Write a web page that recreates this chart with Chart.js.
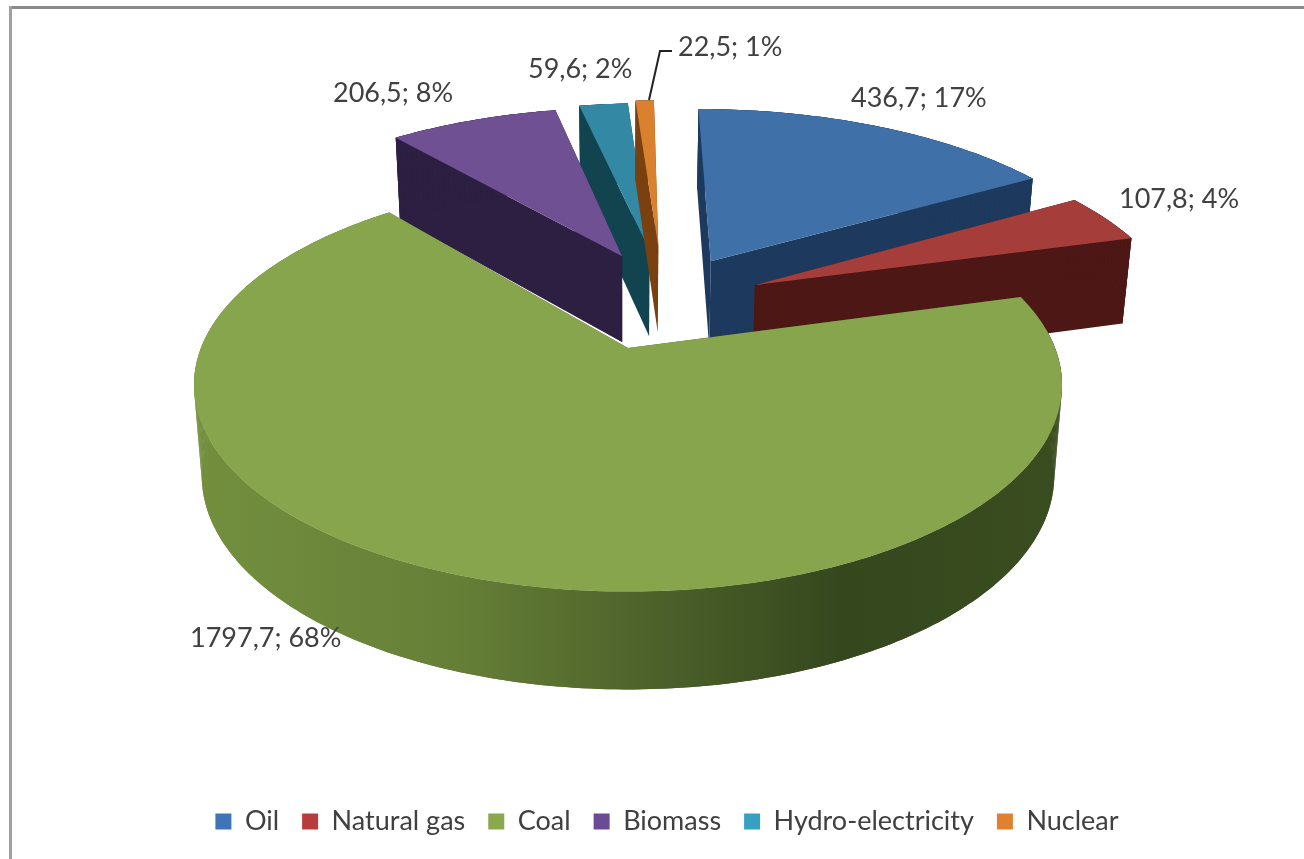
<!DOCTYPE html>
<html>
<head>
<meta charset="utf-8">
<title>Energy sources</title>
<style>
  html, body { margin: 0; padding: 0; background: #fff; overflow: hidden; }
  #chart { display: block; }
</style>
<script src="https://cdn.jsdelivr.net/npm/chart.js@4"></script>
</head>
<body>
<canvas id="chart" width="1304" height="859"></canvas>
<script>
const categories = ['Oil', 'Natural gas', 'Coal', 'Biomass', 'Hydro-electricity', 'Nuclear'];
const values = [436.7, 107.8, 1797.7, 206.5, 59.6, 22.5];
const percents = [17, 4, 68, 8, 2, 1];

// slice colours
const topColors = ['#3f70a8', '#a53d3b', '#87a54c', '#6f5092', '#3388a3', '#d9812f'];
const wallColors = ['#1d3a5e', '#4c1714', '#5f7a35', '#2c1f42', '#124450', '#7a4010'];
const legendColors = ['#3f74b5', '#b83c3c', '#8aa84e', '#6a4c96', '#35a0c0', '#e08030'];
// how far each slice is pulled out of the pie, in pie radii (right, back), and its size
const explodeU = [0.21, 0.315, 0, -0.015, 0.055, 0.078];
const explodeV = [0.47, 0.334, 0, 0.5, 0.537, 0.56];
const radius = [1.05, 1.03, 1, 1.03, 1.03, 1.03];
// label anchors
const labelX = [851, 1119, 190, 333, 528, 678];
const labelY = [98, 199, 638, 93, 69, 47];

// perspective view of the pie plane
const view = { cx: 628, cy: 348, a: 427, b: 200, k: 0.179, depth: 89.5, shrink: 0.018 };

function project(p, z) {
  const w = 1 + view.k * p[1];
  const s = 1 - view.shrink * z;
  return {
    x: view.cx + s * view.a * p[0] / w,
    y: view.cy - view.b * p[1] / w + z * view.depth / Math.pow(w, 0.45)
  };
}

function outline(start, end, r, u0, v0) {
  // chart.js angles run clockwise from the x axis, so cos is right and -sin is back
  const pts = [];
  const n = Math.max(4, Math.ceil((end - start) * 60));
  for (let i = 0; i <= n; i++) {
    const t = start + (end - start) * i / n;
    pts.push([u0 + r * Math.cos(t), v0 - r * Math.sin(t)]);
  }
  return pts;
}

function fillPoly(ctx, pts, color) {
  ctx.beginPath();
  pts.forEach((p, i) => i ? ctx.lineTo(p.x, p.y) : ctx.moveTo(p.x, p.y));
  ctx.closePath();
  ctx.fillStyle = color;
  ctx.fill();
}

const pie3d = {
  id: 'pie3d',
  beforeDatasetDraw(chart) {
    const ctx = chart.ctx;
    const arcs = chart.getDatasetMeta(0).data;
    // back to front
    [0, 4, 5, 3, 1, 2].forEach(i => {
      const arc = arcs[i];
      const apex = [explodeU[i], explodeV[i]];
      const rim = outline(arc.startAngle, arc.endAngle, radius[i], apex[0], apex[1]);

      let wall = wallColors[i];
      if (i === 2) {
        wall = ctx.createLinearGradient(view.cx - view.a, 0, view.cx + view.a, 0);
        wall.addColorStop(0, '#728f3e');
        wall.addColorStop(0.3, '#667f37');
        wall.addColorStop(0.55, '#4a5f29');
        wall.addColorStop(0.75, '#35471d');
        wall.addColorStop(1, '#3a4d20');
      }
      // the two cut faces
      const first = rim[0], last = rim[rim.length - 1];
      [first, last].forEach(p => {
        fillPoly(ctx, [project(apex, 0), project(p, 0), project(p, 1), project(apex, 1)], wall);
      });
      // outer wall, one piece first so the strips below leave no seams
      const wallPts = rim.map(p => project(p, 0)).concat(rim.slice().reverse().map(p => project(p, 1)));
      fillPoly(ctx, wallPts, wall);
      for (let j = 0; j < rim.length - 1; j++) {
        fillPoly(ctx, [project(rim[j], 0), project(rim[j + 1], 0), project(rim[j + 1], 1), project(rim[j], 1)], wall);
      }
      // top face
      const top = [project(apex, 0)].concat(rim.map(p => project(p, 0)));
      fillPoly(ctx, top, topColors[i]);
    });
    return false;
  },
  afterDatasetsDraw(chart) {
    const ctx = chart.ctx;
    // leader line of the nuclear label
    ctx.beginPath();
    ctx.moveTo(649, 100);
    ctx.lineTo(660, 51);
    ctx.lineTo(672, 51);
    ctx.strokeStyle = '#222';
    ctx.lineWidth = 2;
    ctx.stroke();

    ctx.font = '27px Lato';
    ctx.fillStyle = '#404040';
    ctx.textAlign = 'left';
    ctx.textBaseline = 'middle';
    values.forEach((v, i) => {
      const text = String(v).replace('.', ',') + '; ' + percents[i] + '%';
      ctx.fillText(text, labelX[i], labelY[i]);
    });
  },
  beforeDraw(chart) {
    // frame of the chart area
    const ctx = chart.ctx;
    ctx.fillStyle = '#8a8a8a';
    ctx.fillRect(9, 6, 1295, 3);
    ctx.fillStyle = '#a0a0a0';
    ctx.fillRect(9, 6, 3, 853);
  }
};

new Chart(document.getElementById('chart'), {
  type: 'pie',
  data: {
    labels: categories,
    datasets: [{
      data: values,
      backgroundColor: legendColors,
      borderWidth: 0
    }]
  },
  options: {
    responsive: false,
    animation: false,
    layout: { padding: { bottom: 14, left: 30 } },
    plugins: {
      tooltip: { enabled: false },
      legend: {
        display: true,
        position: 'bottom',
        labels: {
          boxWidth: 16,
          boxHeight: 16,
          padding: 23,
          color: '#404040',
          font: { family: 'Lato', size: 27 }
        }
      }
    }
  },
  plugins: [pie3d]
});
</script>
</body>
</html>
